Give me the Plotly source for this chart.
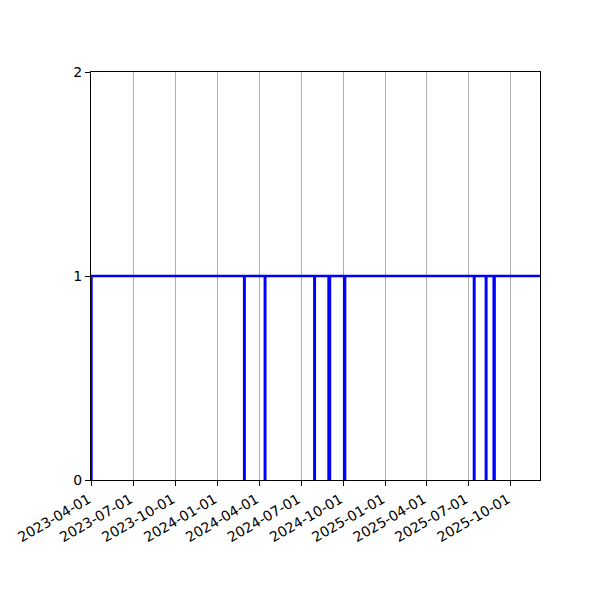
import plotly.graph_objects as go

# change points of the daily status (step-post): 0 = down, 1 = up
change_dates = [
    '2023-03-31', '2023-04-01',
    '2024-02-28', '2024-02-29',
    '2024-04-13', '2024-04-14',
    '2024-07-30', '2024-07-31',
    '2024-08-30', '2024-09-02',
    '2024-10-03', '2024-10-05',
    '2025-07-13', '2025-07-14',
    '2025-08-08', '2025-08-09',
    '2025-08-25', '2025-08-27',
    '2025-12-04',
]
status = [0, 1, 0, 1, 0, 1, 0, 1, 0, 1, 0, 1, 0, 1, 0, 1, 0, 1, 1]

x_start = '2023-03-31'
x_end = '2025-12-04'
y_ticks = [0, 1, 2]

fig = go.Figure()
fig.add_trace(go.Scatter(x=change_dates, y=status, mode='lines', line_shape='hv',
                         line=dict(color='#0000ff', width=2.5), showlegend=False))

axis_style = dict(showline=True, linecolor='black', linewidth=1, mirror=True,
                  ticks='outside', ticklen=5, tickcolor='black', zeroline=False,
                  automargin=False)

# page body has an 8px margin, so the plot area is offset accordingly
fig.update_layout(
    width=600, height=600,
    margin=dict(l=83, r=68, t=64, b=128),
    plot_bgcolor='white', paper_bgcolor='white',
    font=dict(family='DejaVu Sans', size=14, color='black'),
    xaxis=dict(range=[x_start, x_end], tickformat='%Y-%m-%d', dtick='M3',
               tick0='2023-04-01', tickangle=-30, ticklabelshift=-3,
               showgrid=True, gridcolor='#b0b0b0', gridwidth=1, **axis_style),
    yaxis=dict(range=[0, 2], tickvals=y_ticks, showgrid=False, **axis_style),
)

fig.write_html("out.html")
